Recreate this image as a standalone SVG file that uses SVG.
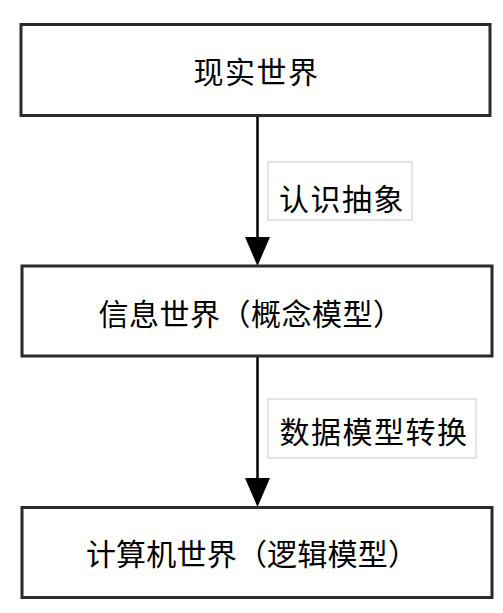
<svg xmlns="http://www.w3.org/2000/svg" width="503" height="613" viewBox="0 0 503 613">
  <style>
    .box { fill: #ffffff; stroke: #2b2b2b; stroke-width: 3; }
    .lbl { fill: #ffffff; stroke: #dcdcdc; stroke-width: 1.5; }
    .t { font-family: "Noto Sans CJK SC", "Noto Sans", sans-serif; font-size: 30px; fill: #000; text-anchor: middle; dominant-baseline: central; }
    .edge { stroke: #000; stroke-width: 2.5; fill: none; }
    .head { fill: #000; }
  </style>
  <rect width="503" height="613" fill="#ffffff"/>
  <g id="connectors">
    <line class="edge" x1="257.5" y1="116" x2="257.5" y2="240"/>
    <polygon class="head" points="245,237 270,237 257.5,266"/>
    <line class="edge" x1="257.5" y1="356" x2="257.5" y2="481"/>
    <polygon class="head" points="245,478 270,478 257.5,507"/>
    <g id="label1">
      <rect class="lbl" x="268" y="162" width="144" height="58"/>
      <text class="t" x="342" y="197" letter-spacing="1.5">认识抽象</text>
    </g>
    <g id="label2">
      <rect class="lbl" x="268" y="399" width="208" height="59"/>
      <text class="t" x="374" y="430" letter-spacing="1.5">数据模型转换</text>
    </g>
  </g>
  <g id="node1">
    <rect class="box" x="21" y="24.5" width="469" height="91"/>
    <text class="t" x="256.5" y="70" letter-spacing="1.5">现实世界</text>
  </g>
  <g id="node2">
    <rect class="box" x="22" y="266" width="470" height="90"/>
    <text class="t" x="251" y="312" letter-spacing="0.5">信息世界（概念模型）</text>
  </g>
  <g id="node3">
    <rect class="box" x="22" y="507.5" width="470" height="90"/>
    <text class="t" x="252" y="552" letter-spacing="0.2">计算机世界（逻辑模型）</text>
  </g>
</svg>
